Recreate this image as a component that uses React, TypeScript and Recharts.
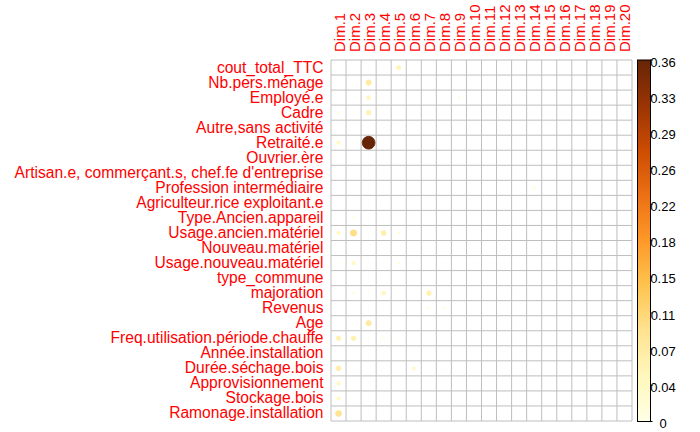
import React from 'react';
import { ScatterChart, Scatter, XAxis, YAxis, ReferenceLine } from 'recharts';

const variables = [
  'cout_total_TTC', 'Nb.pers.ménage', 'Employé.e', 'Cadre', 'Autre,sans activité', 'Retraité.e',
  'Ouvrier.ère', "Artisan.e, commerçant.s, chef.fe d'entreprise", 'Profession intermédiaire',
  'Agriculteur.rice exploitant.e', 'Type.Ancien.appareil', 'Usage.ancien.matériel', 'Nouveau.matériel',
  'Usage.nouveau.matériel', 'type_commune', 'majoration', 'Revenus', 'Age',
  'Freq.utilisation.période.chauffe', 'Année.installation', 'Durée.séchage.bois', 'Approvisionnement',
  'Stockage.bois', 'Ramonage.installation',
];

const dimensions = [
  'Dim.1', 'Dim.2', 'Dim.3', 'Dim.4', 'Dim.5', 'Dim.6', 'Dim.7', 'Dim.8', 'Dim.9', 'Dim.10',
  'Dim.11', 'Dim.12', 'Dim.13', 'Dim.14', 'Dim.15', 'Dim.16', 'Dim.17', 'Dim.18', 'Dim.19', 'Dim.20',
];

const dim1 = [0.004, 0.003, 0.002, 0.014, 0.003, 0.037, 0.002, 0.003, 0.002, 0.003, 0.004, 0.037, 0.002, 0.004, 0.003, 0.004, 0.003, 0.004, 0.057, 0.003, 0.064, 0.037, 0.037, 0.088];
const dim2 = [0.003, 0.004, 0.003, 0.008, 0.003, 0.004, 0.002, 0.003, 0.002, 0.003, 0.014, 0.097, 0.003, 0.037, 0.002, 0.014, 0.003, 0.004, 0.057, 0.003, 0.004, 0.003, 0.003, 0.004];
const dim3 = [0.003, 0.072, 0.043, 0.057, 0.003, 0.3645, 0.003, 0.004, 0.002, 0.003, 0.002, 0.004, 0.003, 0.003, 0.004, 0.003, 0.004, 0.072, 0.004, 0.003, 0.003, 0.004, 0.003, 0.003];
const dim4 = [0.004, 0.003, 0.002, 0.003, 0.003, 0.003, 0.002, 0.003, 0.003, 0.002, 0.003, 0.064, 0.003, 0.003, 0.002, 0.043, 0.003, 0.003, 0.014, 0.003, 0.003, 0.003, 0.004, 0.003];
const dim5 = [0.05, 0.003, 0.002, 0.003, 0.002, 0.003, 0.003, 0.002, 0.003, 0.003, 0.003, 0.018, 0.002, 0.014, 0.003, 0.004, 0.003, 0.003, 0.003, 0.002, 0.003, 0.003, 0.002, 0.003];
const dim6 = [0.003, 0.002, 0.003, 0.003, 0.002, 0.003, 0.002, 0.003, 0.002, 0.003, 0.003, 0.003, 0.002, 0.003, 0.002, 0.003, 0.004, 0.002, 0.003, 0.002, 0.032, 0.003, 0.002, 0.003];
const dim7 = [0.002, 0.003, 0.002, 0.003, 0.003, 0.002, 0.003, 0.002, 0.003, 0.002, 0.003, 0.002, 0.003, 0.002, 0.003, 0.057, 0.014, 0.003, 0.002, 0.003, 0.002, 0.003, 0.002, 0.002];
const dim8 = [0.003, 0.002, 0.003, 0.002, 0.003, 0.003, 0.002, 0.003, 0.003, 0.002, 0.003, 0.003, 0.002, 0.003, 0.002, 0.003, 0.014, 0.003, 0.002, 0.003, 0.003, 0.002, 0.003, 0.003];
const dim9 = [0.002, 0.003, 0.014, 0.003, 0.002, 0.003, 0.003, 0.002, 0.003, 0.002, 0.003, 0.002, 0.003, 0.002, 0.003, 0.002, 0.003, 0.002, 0.003, 0.002, 0.003, 0.002, 0.003, 0.002];
const dim10 = [0.003, 0.002, 0.003, 0.002, 0.003, 0.002, 0.003, 0.003, 0.002, 0.003, 0.002, 0.003, 0.002, 0.003, 0.002, 0.003, 0.002, 0.003, 0.002, 0.003, 0.002, 0.003, 0.002, 0.003];
const dim11 = [0.002, 0.003, 0.002, 0.003, 0.002, 0.003, 0.002, 0.002, 0.003, 0.002, 0.003, 0.002, 0.003, 0.002, 0.003, 0.002, 0.003, 0.002, 0.003, 0.002, 0.003, 0.002, 0.003, 0.002];
const dim12 = [0.003, 0.002, 0.003, 0.002, 0.002, 0.003, 0.002, 0.003, 0.002, 0.003, 0.002, 0.003, 0.002, 0.003, 0.002, 0.003, 0.002, 0.003, 0.002, 0.003, 0.002, 0.003, 0.002, 0.003];
const dim13 = [0.002, 0.003, 0.002, 0.003, 0.003, 0.002, 0.003, 0.002, 0.003, 0.002, 0.003, 0.002, 0.003, 0.002, 0.003, 0.002, 0.003, 0.002, 0.003, 0.002, 0.003, 0.002, 0.003, 0.002];
const dim14 = [0.003, 0.002, 0.003, 0.002, 0.003, 0.002, 0.003, 0.002, 0.018, 0.002, 0.003, 0.002, 0.003, 0.002, 0.003, 0.002, 0.003, 0.002, 0.003, 0.002, 0.003, 0.002, 0.003, 0.002];
const dim15 = [0.002, 0.003, 0.002, 0.003, 0.002, 0.003, 0.002, 0.003, 0.002, 0.003, 0.002, 0.003, 0.002, 0.003, 0.002, 0.003, 0.002, 0.003, 0.002, 0.003, 0.002, 0.003, 0.002, 0.003];
const dim16 = [0.003, 0.002, 0.003, 0.002, 0.003, 0.002, 0.003, 0.002, 0.003, 0.002, 0.003, 0.002, 0.003, 0.002, 0.003, 0.002, 0.003, 0.002, 0.003, 0.002, 0.003, 0.002, 0.003, 0.002];
const dim17 = [0.002, 0.003, 0.002, 0.003, 0.002, 0.003, 0.002, 0.003, 0.002, 0.003, 0.002, 0.003, 0.002, 0.003, 0.002, 0.003, 0.002, 0.003, 0.002, 0.003, 0.002, 0.003, 0.002, 0.003];
const dim18 = [0.003, 0.002, 0.003, 0.002, 0.003, 0.002, 0.003, 0.002, 0.003, 0.002, 0.003, 0.002, 0.003, 0.002, 0.003, 0.002, 0.003, 0.002, 0.003, 0.002, 0.003, 0.002, 0.003, 0.002];
const dim19 = [0.002, 0.003, 0.002, 0.003, 0.002, 0.003, 0.002, 0.003, 0.002, 0.003, 0.002, 0.003, 0.002, 0.003, 0.002, 0.003, 0.002, 0.003, 0.002, 0.003, 0.002, 0.003, 0.002, 0.003];
const dim20 = [0.003, 0.002, 0.003, 0.002, 0.003, 0.002, 0.003, 0.002, 0.003, 0.002, 0.003, 0.002, 0.003, 0.002, 0.003, 0.002, 0.003, 0.002, 0.003, 0.002, 0.003, 0.002, 0.003, 0.002];

const dimValues = [dim1, dim2, dim3, dim4, dim5, dim6, dim7, dim8, dim9, dim10, dim11, dim12, dim13, dim14, dim15, dim16, dim17, dim18, dim19, dim20];

const colorbarLabels = ['0.36', '0.33', '0.29', '0.26', '0.22', '0.18', '0.15', '0.11', '0.07', '0.04', '0'];

const VMAX = 0.3645;
const palette = ['#FFFFE5', '#FFF7BC', '#FEE391', '#FEC44F', '#FE9929', '#EC7014', '#CC4C02', '#993404', '#662506'];

// layout
const W = 700;
const H = 432;
const PLOT_LEFT = 331;
const PLOT_TOP = 60;
const PLOT_RIGHT = 632;
const PLOT_BOTTOM = 421;
const CELL_W = (PLOT_RIGHT - PLOT_LEFT) / dimensions.length;
const CELL_H = (PLOT_BOTTOM - PLOT_TOP) / variables.length;
const MAX_R = 0.45 * Math.min(CELL_W, CELL_H);

function hexToRgb(h: string) {
  return [parseInt(h.slice(1, 3), 16), parseInt(h.slice(3, 5), 16), parseInt(h.slice(5, 7), 16)];
}
function colorFor(v: number) {
  const t = Math.max(0, Math.min(1, v / VMAX));
  const pos = t * (palette.length - 1);
  const i = Math.min(palette.length - 2, Math.floor(pos));
  const f = pos - i;
  const a = hexToRgb(palette[i]);
  const b = hexToRgb(palette[i + 1]);
  const c = a.map((x, k) => Math.round(x + (b[k] - x) * f));
  return `rgb(${c[0]},${c[1]},${c[2]})`;
}

const data: { x: number; y: number; v: number }[] = [];
dimValues.forEach((arr, d) => {
  arr.forEach((v, r) => {
    data.push({ x: d + 1, y: r + 1, v });
  });
});

const DotShape = (props: any) => {
  const { cx, cy, payload } = props;
  if (cx == null || cy == null) return null;
  const v = payload.v;
  const r = Math.max(0.15, MAX_R * Math.sqrt(v / VMAX) - 0.4);
  const c = colorFor(v);
  return <circle cx={cx} cy={cy} r={r} fill={c} stroke={c} strokeWidth={0.9} />;
};

const DimTick = (props: any) => {
  const { x, payload } = props;
  const label = dimensions[payload.value - 1];
  const bx = x + 6;
  const by = 52;
  return (
    <text
      x={bx}
      y={by}
      transform={`rotate(-90 ${bx} ${by})`}
      textAnchor="start"
      fill="#FF0000"
      fontSize={15}
      fontFamily="'Liberation Sans', Arial, sans-serif"
    >
      {label}
    </text>
  );
};

const VarTick = (props: any) => {
  const { y, payload } = props;
  const label = variables[payload.value - 1];
  return (
    <text
      x={PLOT_LEFT - 7.5}
      y={y + 5}
      textAnchor="end"
      fill="#FF0000"
      fontSize={15.6}
      fontFamily="'Liberation Sans', Arial, sans-serif"
    >
      {label}
    </text>
  );
};

const xTicks = dimensions.map((_, i) => i + 1);
const yTicks = variables.map((_, i) => i + 1);
const xLines = Array.from({ length: dimensions.length + 1 }, (_, i) => i + 0.5);
const yLines = Array.from({ length: variables.length + 1 }, (_, i) => i + 0.5);

const CB_LEFT = 637.5;
const CB_RIGHT = 650.5;
const CB_TOP = 60;
const CB_BOTTOM = 421.5;

const Colorbar = () => {
  const n = colorbarLabels.length - 1;
  return (
    <svg width={W} height={H} style={{ position: 'absolute', left: 0, top: 0, pointerEvents: 'none' }}>
      <defs>
        <linearGradient id="cbgrad" x1="0" y1="1" x2="0" y2="0">
          {palette.map((c, i) => (
            <stop key={i} offset={i / (palette.length - 1)} stopColor={c} />
          ))}
        </linearGradient>
      </defs>
      <rect x={CB_LEFT} y={CB_TOP} width={CB_RIGHT - CB_LEFT} height={CB_BOTTOM - CB_TOP} fill="url(#cbgrad)" stroke="#000" strokeWidth={1} />
      {colorbarLabels.map((lab, i) => {
        const ty = CB_TOP + ((CB_BOTTOM - CB_TOP) * i) / n;
        return (
          <g key={i}>
            <line x1={CB_RIGHT} x2={CB_RIGHT + 2} y1={ty} y2={ty} stroke="#000" strokeWidth={1} />
            <text
              x={663}
              y={ty + 2}
              textAnchor="middle"
              dominantBaseline="central"
              fontSize={13}
              fill="#000"
              fontFamily="'Liberation Sans', Arial, sans-serif"
            >
              {lab}
            </text>
          </g>
        );
      })}
    </svg>
  );
};

export default function App() {
  return (
    <div style={{ position: 'absolute', left: 0, top: 0, width: W, height: H, background: '#fff' }}>
      <ScatterChart
        width={W}
        height={H}
        margin={{ top: 0, right: W - PLOT_RIGHT, bottom: H - PLOT_BOTTOM, left: 0 }}
      >
        <XAxis
          dataKey="x"
          type="number"
          orientation="top"
          domain={[0.5, dimensions.length + 0.5]}
          ticks={xTicks}
          interval={0}
          height={PLOT_TOP}
          tickLine={false}
          axisLine={false}
          tick={<DimTick />}
          allowDataOverflow
        />
        <YAxis
          dataKey="y"
          type="number"
          reversed
          domain={[0.5, variables.length + 0.5]}
          ticks={yTicks}
          interval={0}
          width={PLOT_LEFT}
          tickLine={false}
          axisLine={false}
          tick={<VarTick />}
          allowDataOverflow
        />
        {xLines.map((v) => (
          <ReferenceLine key={`vx${v}`} x={v} stroke="#BEBEBE" strokeWidth={1} ifOverflow="visible" />
        ))}
        {yLines.map((v) => (
          <ReferenceLine key={`hy${v}`} y={v} stroke="#BEBEBE" strokeWidth={1} ifOverflow="visible" />
        ))}
        <Scatter data={data} shape={<DotShape />} isAnimationActive={false} />
      </ScatterChart>
      <Colorbar />
    </div>
  );
}
